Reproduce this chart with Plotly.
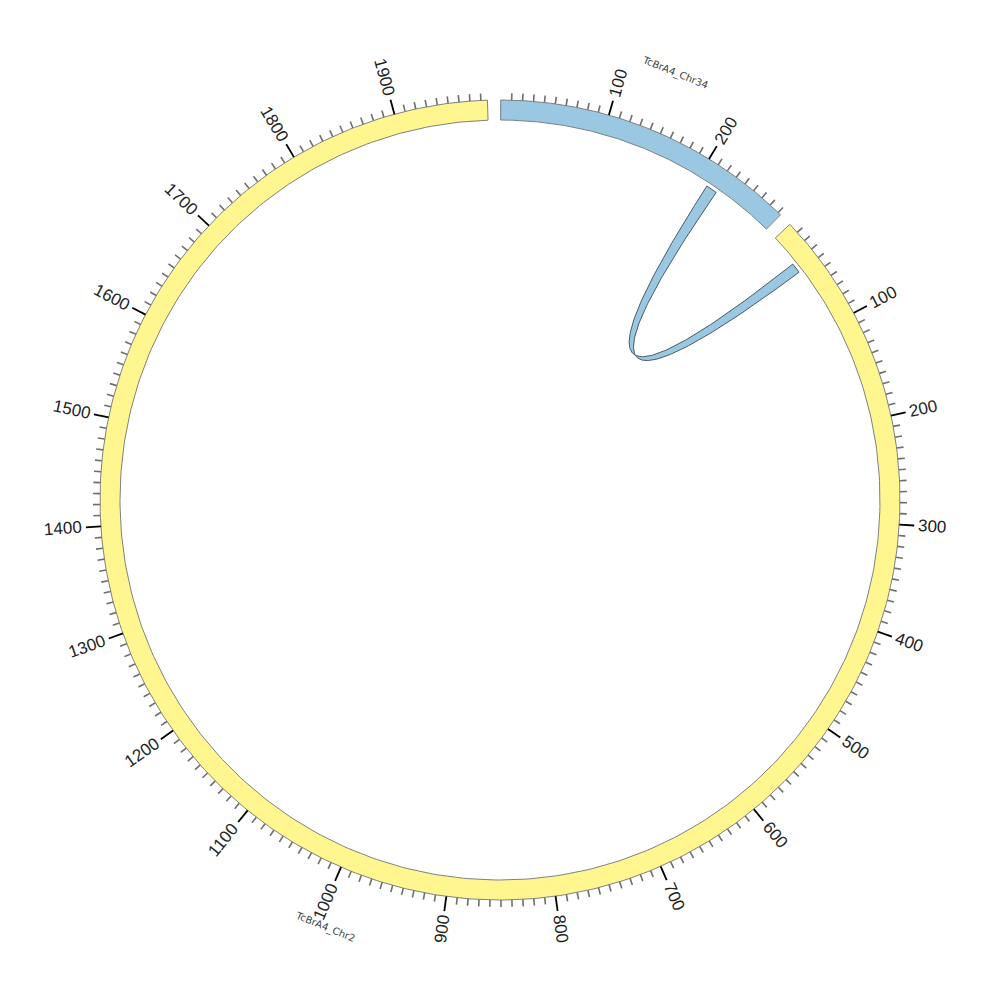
import numpy as np
import plotly.graph_objects as go

# ---- data ----
segment_names = ["TcBrA4_Chr34", "TcBrA4_Chr2"]
segment_lengths = [283, 1986]
segment_colors = ["#9AC7E2", "#FFF68F"]

link_source = "TcBrA4_Chr34"
link_source_range = [212, 223]
link_target = "TcBrA4_Chr2"
link_target_range = [30, 40]
link_color = "#9AC7E2"

major_tick_step = 100
minor_tick_step = 10

# ---- layout params (page body has an 8px margin) ----
CX, CY = 492, 492
R_OUT, R_IN = 400, 380
R_LINK = 376
R_CTRL = 24
START_DEG = 0.1
GAP_DEG = 1.9
scale = (360 - GAP_DEG * len(segment_names)) / sum(segment_lengths)

seg_start = {}
a = START_DEG
for n, L in zip(segment_names, segment_lengths):
    seg_start[n] = a
    a += L * scale + GAP_DEG


def ang(seg, pos):
    return seg_start[seg] + pos * scale


def xy(r, deg):
    t = np.radians(deg)
    return CX + r * np.sin(t), CY - r * np.cos(t)


fig = go.Figure()

# segments
for n, L, c in zip(segment_names, segment_lengths, segment_colors):
    th = np.linspace(ang(n, 0), ang(n, L), 400)
    xo, yo = xy(R_OUT, th)
    xi, yi = xy(R_IN, th[::-1])
    xs = np.concatenate([xo, xi, xo[:1]])
    ys = np.concatenate([yo, yi, yo[:1]])
    fig.add_trace(go.Scatter(x=xs, y=ys, fill="toself", fillcolor=c, mode="lines",
                             line=dict(color="#808080", width=1), hoverinfo="skip", showlegend=False))


a1, a2 = ang(link_source, link_source_range[0]), ang(link_source, link_source_range[1])
b1, b2 = ang(link_target, link_target_range[0]), ang(link_target, link_target_range[1])
ctrl = np.array(xy(R_CTRL, (a1 + a2 + b1 + b2) / 4))


# link ribbon (quadratic Bezier edges)
def bez(p0, p2, n=150):
    t = np.linspace(0, 1, n)[:, None]
    pts = (1 - t) ** 2 * p0 + 2 * (1 - t) * t * ctrl + t ** 2 * p2
    return pts[:, 0], pts[:, 1]


px, py = [], []
x, y = xy(R_LINK, np.linspace(a1, a2, 30)); px.append(x); py.append(y)
x, y = bez(np.array(xy(R_LINK, a2)), np.array(xy(R_LINK, b2))); px.append(x); py.append(y)
x, y = xy(R_LINK, np.linspace(b2, b1, 30)); px.append(x); py.append(y)
x, y = bez(np.array(xy(R_LINK, b1)), np.array(xy(R_LINK, a1))); px.append(x); py.append(y)
fig.add_trace(go.Scatter(x=np.concatenate(px), y=np.concatenate(py), fill="toself",
                         fillcolor=link_color, mode="lines", line=dict(color="#2a3a44", width=0.8),
                         hoverinfo="skip", showlegend=False))

# ticks
minor_x, minor_y, major_x, major_y = [], [], [], []
annotations = []
FS = 17
for n, L in zip(segment_names, segment_lengths):
    for p in range(minor_tick_step, L, minor_tick_step):
        d = ang(n, p)
        if p % major_tick_step == 0:
            x0, y0 = xy(R_OUT, d); x1, y1 = xy(R_OUT + 15, d)
            major_x += [x0, x1, None]; major_y += [y0, y1, None]
            txt = str(p)
            w = len(txt) * 0.556 * FS
            lx, ly = xy(R_OUT + 19 + w / 2, d)
            dn = d % 360
            ta = dn - 90 if dn <= 180 else dn - 270
            annotations.append(dict(x=lx, y=ly, text=txt, showarrow=False, textangle=ta,
                                    xanchor="center", yanchor="middle",
                                    font=dict(size=FS, color="#222222", family="Liberation Sans")))
        else:
            x0, y0 = xy(R_OUT, d); x1, y1 = xy(R_OUT + 7, d)
            minor_x += [x0, x1, None]; minor_y += [y0, y1, None]

fig.add_trace(go.Scatter(x=minor_x, y=minor_y, mode="lines", line=dict(color="#6e6e6e", width=1.6),
                         hoverinfo="skip", showlegend=False))
fig.add_trace(go.Scatter(x=major_x, y=major_y, mode="lines", line=dict(color="#000000", width=1.8),
                         hoverinfo="skip", showlegend=False))

# segment labels
for n, L in zip(segment_names, segment_lengths):
    d = ang(n, L / 2) % 360
    lx, ly = xy(462, d)
    ta = d if (d <= 90 or d >= 270) else d - 180
    annotations.append(dict(x=lx, y=ly, text=n, showarrow=False, textangle=ta,
                            xanchor="center", yanchor="middle",
                            font=dict(size=10, color="#444444", family="DejaVu Sans")))

fig.update_layout(
    width=1000, height=1000,
    margin=dict(l=0, r=0, t=0, b=0),
    paper_bgcolor="white", plot_bgcolor="white",
    xaxis=dict(range=[0, 1000], visible=False, fixedrange=True),
    yaxis=dict(range=[1000, 0], visible=False, fixedrange=True),
    annotations=annotations,
    showlegend=False,
)

fig.write_html("out.html")
